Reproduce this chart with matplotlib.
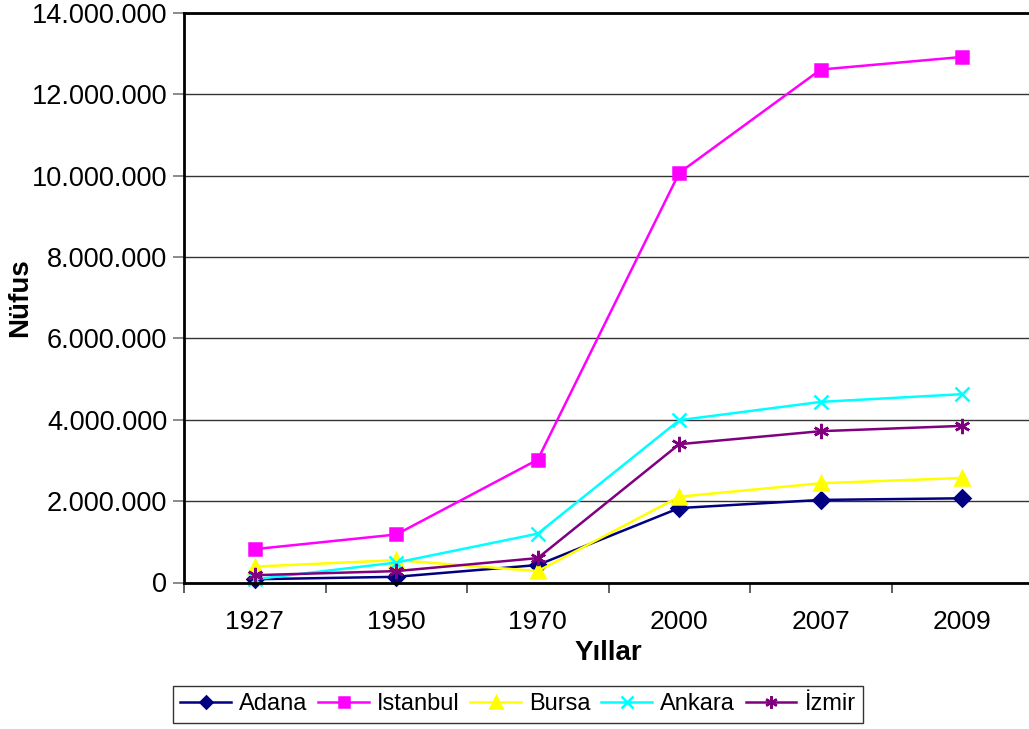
import matplotlib
matplotlib.use("Agg")
import matplotlib.pyplot as plt
from matplotlib.ticker import FuncFormatter, FixedLocator

plt.rcParams['font.family'] = ['Liberation Sans', 'DejaVu Sans']

years = ['1927', '1950', '1970', '2000', '2007', '2009']

# population, in persons
adana = [80000, 140000, 430000, 1830000, 2030000, 2070000]
istanbul = [820000, 1180000, 3020000, 10070000, 12610000, 12920000]
bursa = [390000, 550000, 280000, 2110000, 2440000, 2570000]
ankara = [80000, 490000, 1200000, 3990000, 4440000, 4630000]
izmir = [180000, 280000, 600000, 3400000, 3720000, 3850000]

series = [
    ('Adana', adana, '#000080', 'D', 8),
    ('Istanbul', istanbul, '#FF00FF', 's', 8.5),
    ('Bursa', bursa, '#FFFF00', '^', 10),
    ('Ankara', ankara, '#00FFFF', 'x', 10),
    ('İzmir', izmir, '#800080', (6, 2, 0), 11),
]

fig = plt.figure(figsize=(10.29, 7.29), dpi=100)
ax = fig.add_axes([184 / 1029, 1 - 582.5 / 729, 849 / 1029, 569.5 / 729])

x = list(range(len(years)))
for name, vals, color, marker, ms in series:
    ax.plot(x, vals, color=color, marker=marker, markersize=ms, lw=1.8,
            mew=1.8, label=name, clip_on=False)

ax.set_ylim(0, 14000000)
ax.set_xlim(-0.5, len(years) - 0.5)
ax.set_yticks(range(0, 14000001, 2000000))
ax.yaxis.set_major_formatter(FuncFormatter(lambda v, p: f"{int(v):,}".replace(',', '.')))
ax.grid(axis='y', color='#333333', lw=1)
ax.set_axisbelow(True)

ax.set_xticks(x)
ax.set_xticklabels(years)
ax.xaxis.set_minor_locator(FixedLocator([i - 0.5 for i in range(len(years) + 1)]))
ax.tick_params(axis='x', which='major', length=0, pad=20, labelsize=19)
ax.tick_params(axis='x', which='minor', length=7, width=1.2, color='#444444')
ax.tick_params(axis='y', length=8, width=1.2, color='#777777', labelsize=19.5, pad=4)

for side in ['left', 'bottom', 'top']:
    ax.spines[side].set_linewidth(2)
    ax.spines[side].set_color('black')
ax.spines['right'].set_visible(False)

ax.set_xlabel('Yıllar', fontsize=20, fontweight='bold', labelpad=4)
fig.text(20 / 1029, 1 - 298 / 729, 'Nüfus', rotation=90, fontsize=20,
         fontweight='bold', ha='center', va='center')

leg = fig.legend(loc='center', bbox_to_anchor=(518 / 1029, 1 - 704.5 / 729), ncol=5,
                 fontsize=17, frameon=True, fancybox=False, edgecolor='black',
                 handlelength=2.15, handletextpad=0.34, columnspacing=0.45,
                 borderpad=0.3, borderaxespad=0, markerscale=0.8)
leg.get_frame().set_linewidth(1)

fig.savefig('out.png', dpi=100)
